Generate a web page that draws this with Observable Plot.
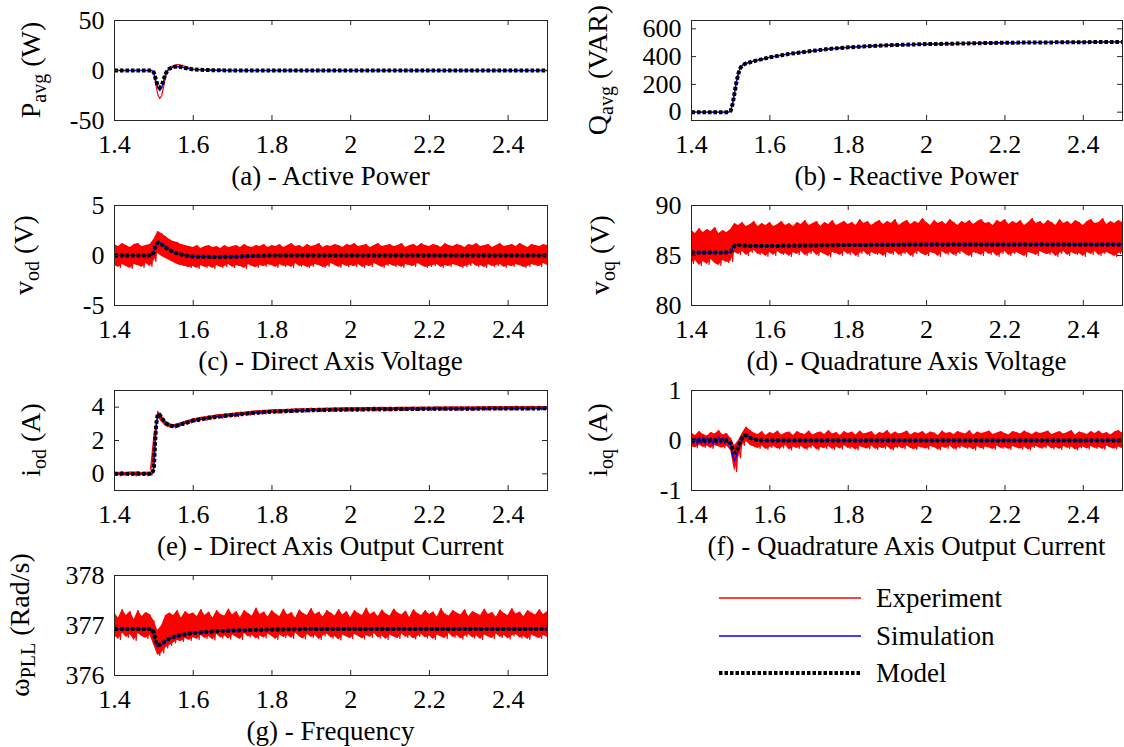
<!DOCTYPE html>
<html><head><meta charset="utf-8">
<script src="https://cdn.jsdelivr.net/npm/d3@7"></script>
<script src="https://cdn.jsdelivr.net/npm/@observablehq/plot@0.6"></script>
<style>
html,body{margin:0;padding:0;background:#fff;overflow:hidden}
#fig{position:relative;width:1124px;height:747px;font-family:"Liberation Serif","Times New Roman",serif;background:#fff}
#fig svg{position:absolute}
</style></head><body><div id="fig"></div><script>
// ---------- data ----------
const seriesNames = ["Experiment", "Simulation", "Model"];
const xTicks = [1.4, 1.6, 1.8, 2.0, 2.2, 2.4];
// sampling grid for the noisy experiment traces (1.40 ... 2.50, step 0.01)
const tGrid = d3.range(111).map(i => (140 + i) / 100);

// (a) active power
const aT = [1.4,1.495,1.5,1.505,1.51,1.515,1.52,1.525,1.53,1.535,1.54,1.55,1.56,1.57,1.58,1.6,1.65,1.7,2.5];
const aExp = [0,0,-3,-14,-24,-28,-25,-16,-6,0,3,5,6,5.5,4,1.5,0.5,0,0];
const aSim = [0,0,-2,-10,-17,-20,-17,-10,-3,0,2,3.5,4,3.5,2.5,1,0.3,0,0];
const aModel = [0,0,-2,-9,-15,-17,-15,-9,-3,0,2,3.5,4,3.5,2.5,1,0.3,0,0];

// (b) reactive power
const bT = [1.4,1.495,1.5,1.505,1.51,1.515,1.52,1.525,1.53,1.54,1.56,1.6,1.65,1.7,1.75,1.8,1.9,2.0,2.2,2.5];
const bExp = [0,0,12,65,145,225,285,322,340,353,369,396,421,438,455,467,482,490,500,506];
const bSim = [0,0,10,62,142,222,282,321,339,352,368,395,420,438,455,467,482,490,500,506];
const bModel = [0,0,10,60,140,220,280,320,338,352,368,395,420,438,455,467,482,490,500,506];

// (c) direct axis voltage
const cT = [1.4,1.495,1.5,1.505,1.51,1.515,1.52,1.53,1.54,1.55,1.56,1.58,1.6,1.65,1.7,1.75,1.8,2.5];
const cSim = [0,0,0.45,1.05,1.35,1.3,1.12,0.82,0.56,0.36,0.2,0.0,-0.1,-0.15,-0.12,-0.05,0,0];
const cModel = [0,0,0.4,1.0,1.3,1.25,1.1,0.8,0.55,0.35,0.2,0.0,-0.1,-0.15,-0.12,-0.05,0,0];
const cExpHi = [
1.1,0.9,1.2,1.0,0.8,1.1,1.2,0.9,1.0,1.1,
1.6,2.4,2.2,1.9,1.6,1.4,1.3,1.1,1.0,0.9,
0.8,1.0,0.7,0.9,1.0,0.8,0.9,0.7,1.0,0.8,
0.9,1.0,0.8,1.1,0.9,0.8,1.0,0.9,1.1,0.8,
1.0,0.9,1.1,0.8,1.0,1.2,0.9,1.0,0.8,1.1,
0.9,1.0,1.2,0.8,1.0,0.9,1.1,1.0,0.8,1.1,
1.0,1.2,0.9,1.0,1.1,0.8,1.0,1.2,0.9,1.0,
1.1,0.9,1.0,1.2,0.8,1.0,1.1,0.9,1.2,1.0,
0.9,1.1,1.0,0.8,1.2,1.0,0.9,1.1,1.0,0.8,
1.1,1.0,1.2,0.9,1.0,1.1,0.8,1.0,1.2,0.9,
1.0,1.1,0.9,1.2,1.0,0.8,1.1,1.0,0.9,1.1,
1.0];
const cExpLo = [
-1.0,-1.2,-0.9,-1.1,-1.3,-0.9,-1.0,-1.2,-0.8,-1.1,
-0.6,0.2,-0.1,-0.3,-0.5,-0.7,-0.9,-1.0,-1.1,-1.2,
-1.1,-1.3,-1.0,-1.2,-1.1,-1.3,-1.0,-1.2,-1.1,-0.9,
-1.2,-1.0,-1.1,-1.3,-0.9,-1.1,-1.2,-1.0,-1.1,-0.9,
-1.0,-1.2,-0.9,-1.1,-1.0,-1.2,-0.8,-1.1,-1.0,-1.2,
-1.1,-0.9,-1.0,-1.2,-1.1,-0.8,-1.0,-1.2,-0.9,-1.1,
-1.0,-1.1,-0.9,-1.2,-1.0,-1.1,-0.8,-1.0,-1.2,-1.0,
-0.9,-1.1,-1.0,-1.2,-0.9,-1.0,-1.1,-0.8,-1.0,-1.2,
-1.1,-1.0,-0.9,-1.2,-1.0,-1.1,-0.9,-1.0,-1.2,-1.1,
-1.0,-0.8,-1.1,-1.0,-1.2,-0.9,-1.1,-1.0,-0.9,-1.2,
-1.0,-1.1,-0.9,-1.0,-1.2,-1.1,-0.9,-1.0,-1.1,-0.8,
-1.0];

// (d) quadrature axis voltage
const dT = [1.4,1.495,1.5,1.505,1.51,1.52,1.53,1.55,1.6,1.7,1.8,2.0,2.5];
const dSim = [85.3,85.3,85.42,85.78,86.0,86.05,86.0,85.95,85.95,86.0,86.05,86.1,86.1];
const dModel = [85.3,85.3,85.4,85.75,86.0,86.05,86.0,85.95,85.95,86.0,86.05,86.1,86.1];
const dExpHi = [
87.5,87.2,87.7,87.3,87.6,87.4,87.8,87.2,87.5,87.3,
87.6,88.2,88.0,88.3,87.9,88.1,88.4,87.9,88.2,88.0,
88.3,87.9,88.1,88.4,88.0,88.2,87.9,88.3,88.1,88.5,
88.0,88.2,88.4,87.9,88.3,88.1,88.5,88.0,88.2,88.4,
88.1,88.3,88.0,88.6,88.2,88.4,88.0,88.3,88.5,88.1,
88.4,88.2,88.6,88.0,88.3,88.5,88.1,88.4,88.2,88.7,
88.3,88.0,88.5,88.2,88.4,88.1,88.6,88.3,88.0,88.4,
88.2,88.5,88.1,88.4,88.6,88.2,88.3,88.0,88.5,88.3,
88.6,88.1,88.4,88.2,88.5,88.0,88.3,88.7,88.2,88.4,
88.1,88.5,88.3,88.0,88.6,88.2,88.4,88.1,88.5,88.3,
88.0,88.4,88.6,88.2,88.3,88.7,88.1,88.4,88.2,88.5,
88.3];
const dExpLo = [
84.2,84.5,84.0,84.4,84.1,84.6,84.2,84.0,84.5,84.3,
84.4,85.3,85.1,85.4,85.0,85.3,85.5,85.1,85.2,84.9,
85.3,85.0,85.4,85.1,85.2,84.9,85.3,85.1,85.4,85.0,
85.2,85.4,85.0,85.3,85.1,84.9,85.3,85.2,85.0,85.4,
85.1,85.3,84.9,85.2,85.4,85.0,85.3,85.1,85.2,84.9,
85.3,85.1,85.4,85.0,85.2,85.3,84.9,85.2,85.4,85.1,
85.0,85.3,85.2,84.9,85.4,85.1,85.3,85.0,85.2,85.4,
85.1,84.9,85.3,85.2,85.0,85.4,85.1,85.3,84.9,85.2,
85.4,85.0,85.2,85.3,85.1,84.9,85.3,85.2,85.0,85.4,
85.2,85.1,85.3,84.9,85.2,85.4,85.0,85.3,85.1,85.2,
84.9,85.3,85.1,85.4,85.0,85.2,85.3,85.1,84.9,85.2,
85.3];

// (e) direct axis output current
const eT = [1.4,1.495,1.5,1.503,1.506,1.51,1.515,1.52,1.53,1.54,1.55,1.56,1.58,1.6,1.65,1.7,1.75,1.8,1.9,2.0,2.2,2.5];
const eSim = [0,0,0.3,1.8,3.0,3.62,3.56,3.35,3.05,2.9,2.85,2.9,3.05,3.2,3.4,3.53,3.65,3.73,3.82,3.86,3.9,3.93];
const eModel = [0,0,0.3,1.8,3.0,3.6,3.55,3.35,3.05,2.9,2.85,2.9,3.05,3.2,3.4,3.53,3.65,3.73,3.82,3.86,3.9,3.93];
const eExpHi = [
0.10,0.08,0.12,0.07,0.11,0.09,0.13,0.08,0.10,0.09,
0.45,3.75,3.45,3.15,3.00,2.95,3.00,3.08,3.15,3.22,
3.30,3.33,3.39,3.41,3.47,3.49,3.54,3.55,3.59,3.60,
3.64,3.65,3.69,3.70,3.73,3.75,3.78,3.78,3.81,3.82,
3.84,3.84,3.86,3.86,3.88,3.88,3.90,3.90,3.91,3.91,
3.93,3.92,3.94,3.93,3.95,3.94,3.96,3.95,3.96,3.96,
3.97,3.96,3.98,3.97,3.98,3.97,3.99,3.98,3.99,3.98,
4.00,3.98,4.00,3.99,4.00,3.99,4.01,3.99,4.01,4.00,
4.01,4.00,4.02,4.00,4.02,4.01,4.02,4.01,4.03,4.01,
4.03,4.01,4.03,4.02,4.03,4.02,4.04,4.02,4.04,4.02,
4.04,4.02,4.05,4.03,4.04,4.03,4.05,4.03,4.05,4.03,
4.04];
const eExpLo = [
-0.09,-0.12,-0.07,-0.11,-0.08,-0.13,-0.09,-0.10,-0.12,-0.08,
2.30,3.40,3.10,2.85,2.77,2.75,2.83,2.90,2.97,3.05,
3.12,3.13,3.19,3.21,3.26,3.29,3.33,3.34,3.38,3.40,
3.43,3.45,3.48,3.50,3.52,3.55,3.57,3.58,3.60,3.62,
3.63,3.64,3.65,3.66,3.67,3.68,3.69,3.70,3.70,3.71,
3.72,3.72,3.73,3.73,3.74,3.74,3.75,3.75,3.75,3.76,
3.76,3.76,3.77,3.77,3.77,3.77,3.78,3.78,3.78,3.78,
3.79,3.79,3.79,3.79,3.79,3.80,3.80,3.80,3.80,3.80,
3.80,3.80,3.81,3.81,3.81,3.81,3.81,3.81,3.82,3.82,
3.82,3.82,3.82,3.82,3.82,3.83,3.83,3.83,3.83,3.83,
3.83,3.83,3.83,3.84,3.84,3.84,3.84,3.84,3.84,3.84,
3.84];

// (f) quadrature axis output current
const fT = [1.4,1.495,1.5,1.505,1.51,1.515,1.52,1.525,1.53,1.535,1.54,1.55,1.56,1.58,2.5];
const fModel = [0,0,-0.05,-0.18,-0.25,-0.22,-0.12,-0.02,0.06,0.1,0.1,0.05,0.02,0,0];
const fSimT = [1.400,1.405,1.410,1.415,1.420,1.425,1.430,1.435,1.440,1.445,1.450,1.455,1.460,1.465,1.470,1.475,1.480,1.485,1.490,1.495,1.500,1.505,1.510,1.515,1.520,1.525,1.530,1.535,1.540,1.550,1.560,1.580,2.500];
const fSim = [0.06,-0.06,0.05,-0.07,0.06,-0.05,0.07,-0.06,0.05,-0.06,0.06,-0.07,0.05,-0.06,0.07,-0.05,0.06,-0.06,0.05,-0.07,-0.08,-0.30,-0.40,-0.30,-0.15,-0.03,0.06,0.10,0.11,0.05,0.02,0,0];
const fExpHi = [
0.15,0.10,0.18,0.12,0.09,0.16,0.13,0.20,0.11,0.14,
0.05,-0.10,0.00,0.15,0.27,0.20,0.15,0.12,0.18,0.10,
0.16,0.13,0.19,0.11,0.15,0.17,0.10,0.18,0.14,0.12,
0.19,0.11,0.15,0.17,0.12,0.20,0.13,0.16,0.10,0.18,
0.14,0.17,0.11,0.19,0.13,0.15,0.18,0.10,0.16,0.14,
0.20,0.12,0.17,0.13,0.15,0.19,0.11,0.16,0.14,0.18,
0.12,0.17,0.15,0.10,0.19,0.14,0.16,0.12,0.18,0.15,
0.13,0.20,0.11,0.17,0.14,0.16,0.19,0.12,0.15,0.18,
0.14,0.11,0.18,0.16,0.13,0.19,0.15,0.12,0.17,0.14,
0.16,0.19,0.12,0.15,0.18,0.13,0.16,0.20,0.11,0.17,
0.15,0.12,0.18,0.14,0.19,0.13,0.16,0.11,0.17,0.20,
0.15];
const fExpLo = [
-0.12,-0.15,-0.09,-0.14,-0.11,-0.16,-0.10,-0.13,-0.15,-0.11,
-0.20,-0.62,-0.35,-0.10,-0.02,-0.10,-0.13,-0.16,-0.11,-0.18,
-0.14,-0.12,-0.17,-0.15,-0.10,-0.19,-0.13,-0.16,-0.12,-0.18,
-0.15,-0.11,-0.19,-0.14,-0.16,-0.12,-0.18,-0.13,-0.17,-0.10,
-0.16,-0.14,-0.19,-0.12,-0.15,-0.17,-0.11,-0.18,-0.14,-0.16,
-0.12,-0.19,-0.15,-0.13,-0.17,-0.11,-0.16,-0.18,-0.13,-0.15,
-0.17,-0.12,-0.14,-0.19,-0.13,-0.16,-0.11,-0.18,-0.15,-0.12,
-0.16,-0.14,-0.19,-0.12,-0.17,-0.13,-0.15,-0.18,-0.11,-0.16,
-0.14,-0.18,-0.12,-0.15,-0.17,-0.13,-0.19,-0.14,-0.12,-0.16,
-0.15,-0.11,-0.17,-0.14,-0.18,-0.12,-0.16,-0.13,-0.19,-0.15,
-0.13,-0.17,-0.12,-0.16,-0.14,-0.18,-0.11,-0.15,-0.17,-0.13,
-0.16];

// (g) PLL frequency
const gT = [1.4,1.495,1.5,1.505,1.51,1.52,1.53,1.54,1.55,1.57,1.6,1.65,1.7,1.8,1.9,2.5];
const gSim = [376.93,376.93,376.84,376.66,376.58,376.62,376.69,376.74,376.77,376.81,376.85,376.88,376.9,376.92,376.93,376.93];
const gModel = [376.93,376.93,376.85,376.68,376.6,376.63,376.7,376.74,376.77,376.81,376.85,376.88,376.9,376.92,376.93,376.93];
const gExpHi = [
377.25,377.15,377.32,377.20,377.28,377.12,377.30,377.18,377.26,377.22,
377.10,376.90,377.00,377.20,377.25,377.20,377.30,377.15,377.28,377.22,
377.25,377.18,377.32,377.20,377.27,377.15,377.30,377.22,377.19,377.33,
377.21,377.28,377.16,377.30,377.24,377.19,377.35,377.22,377.27,377.17,
377.30,377.23,377.18,377.33,377.21,377.26,377.15,377.31,377.24,377.20,
377.34,377.22,377.27,377.17,377.30,377.25,377.19,377.32,377.21,377.28,
377.16,377.30,377.24,377.20,377.35,377.22,377.27,377.18,377.31,377.23,
377.19,377.33,377.25,377.21,377.29,377.16,377.32,377.24,377.20,377.30,
377.22,377.27,377.17,377.34,377.23,377.19,377.30,377.25,377.21,377.32,
377.18,377.28,377.24,377.20,377.33,377.22,377.26,377.17,377.31,377.24,
377.20,377.34,377.23,377.27,377.18,377.30,377.25,377.21,377.32,377.22,
377.28];
const gExpLo = [
376.80,376.72,376.85,376.76,376.82,376.70,376.84,376.78,376.74,376.81,
376.60,376.40,376.45,376.55,376.60,376.65,376.70,376.68,376.74,376.70,
376.76,376.72,376.80,376.74,376.78,376.71,376.82,376.75,376.79,376.73,
376.81,376.76,376.72,376.84,376.77,376.80,376.73,376.79,376.75,376.83,
376.78,376.72,376.81,376.76,376.80,376.74,376.85,376.77,376.73,376.82,
376.76,376.80,376.72,376.79,376.83,376.75,376.78,376.71,376.81,376.77,
376.74,376.82,376.78,376.73,376.80,376.76,376.84,376.75,376.79,376.72,
376.81,376.77,376.74,376.83,376.76,376.80,376.73,376.78,376.82,376.75,
376.79,376.72,376.81,376.77,376.74,376.84,376.76,376.80,376.73,376.78,
376.82,376.75,376.79,376.72,376.81,376.77,376.74,376.83,376.76,376.80,
376.73,376.79,376.82,376.75,376.78,376.72,376.81,376.77,376.74,376.80,
376.76];

// ---------- helpers ----------
const zip = (t, v) => t.map((ti, i) => ({t: ti, v: v[i]}));
// experiment trace: upper reading at t, lower reading half a step later
const zigzag = (hi, lo) => tGrid.flatMap((t, i) => [{t, v: hi[i]}, {t: t + 0.005, v: lo[i]}]);
const band = (hi, lo) => tGrid.map((t, i) => ({t, hi: hi[i], lo: lo[i]}));

const COLORS = {Experiment: "#ff0000", Simulation: "#0000ff", Model: "#000000"};
const FONT = '"Liberation Serif","Times New Roman",serif';
const LEFT = {x0: 114, w: 433}, RIGHT = {x0: 691, w: 431};
const ROWS = [20, 205, 390, 575];
const H = 100;

const panels = [
  {col: LEFT, row: 0, y: [-50, 50], yTicks: [-50, 0, 50], exp: zip(aT, aExp), sim: zip(aT, aSim), model: zip(aT, aModel),
   lab: ["P", "avg", " (W)"], labX: 40, title: "(a) - Active Power"},
  {col: RIGHT, row: 0, y: [-60, 660], yTicks: [0, 200, 400, 600], exp: zip(bT, bExp), sim: zip(bT, bSim), model: zip(bT, bModel),
   lab: ["Q", "avg", " (VAR)"], labX: 607, title: "(b) - Reactive Power"},
  {col: LEFT, row: 1, y: [-5, 5], yTicks: [-5, 0, 5], exp: zigzag(cExpHi, cExpLo), band: band(cExpHi, cExpLo), sim: zip(cT, cSim), model: zip(cT, cModel),
   lab: ["v", "od", " (V)"], labX: 33, title: "(c) - Direct Axis Voltage"},
  {col: RIGHT, row: 1, y: [80, 90], yTicks: [80, 85, 90], exp: zigzag(dExpHi, dExpLo), band: band(dExpHi, dExpLo), sim: zip(dT, dSim), model: zip(dT, dModel),
   lab: ["v", "oq", " (V)"], labX: 609, title: "(d) - Quadrature Axis Voltage"},
  {col: LEFT, row: 2, y: [-1, 5], yTicks: [0, 2, 4], exp: zigzag(eExpHi, eExpLo), band: band(eExpHi, eExpLo), sim: zip(eT, eSim), model: zip(eT, eModel),
   lab: ["i", "od", " (A)"], labX: 40, title: "(e) - Direct Axis Output Current"},
  {col: RIGHT, row: 2, y: [-1, 1], yTicks: [-1, 0, 1], exp: zigzag(fExpHi, fExpLo), band: band(fExpHi, fExpLo), sim: zip(fSimT, fSim), model: zip(fT, fModel),
   lab: ["i", "oq", " (A)"], labX: 607, title: "(f) - Quadrature Axis Output Current"},
  {col: LEFT, row: 3, y: [376, 378], yTicks: [376, 377, 378], exp: zigzag(gExpHi, gExpLo), band: band(gExpHi, gExpLo), sim: zip(gT, gSim), model: zip(gT, gModel),
   lab: ["\u03C9", "PLL", " (Rad/s)"], labX: 29, title: "(g) - Frequency"}
];

const fig = document.getElementById("fig");
const ML = 70, MR = 2, MT = 8, MB = 40, TICK = 5;

for (const p of panels) {
  const W = p.col.w;
  const plot = Plot.plot({
    width: W + ML + MR, height: H + MT + MB,
    marginLeft: ML, marginRight: MR, marginTop: MT, marginBottom: MB,
    x: {domain: [1.4, 2.5]},
    y: {domain: p.y},
    style: {fontFamily: FONT, fontSize: "26px", color: "#000", background: "transparent", overflow: "visible"},
    marks: [
      p.band ? Plot.areaY(p.band, {x: "t", y1: "lo", y2: "hi", fill: COLORS.Experiment, clip: true}) : null,
      Plot.line(p.exp, {x: "t", y: "v", stroke: COLORS.Experiment, strokeWidth: 1.2, clip: true}),
      Plot.line(p.sim, {x: "t", y: "v", stroke: COLORS.Simulation, strokeWidth: 1.4, clip: true}),
      Plot.line(p.model, {x: "t", y: "v", stroke: COLORS.Model, strokeWidth: 4, strokeDasharray: "3.5,2", strokeLinecap: "butt", strokeLinejoin: "miter", clip: true}),
      Plot.frame({stroke: "#262626", strokeWidth: 1}),
      Plot.ruleX(xTicks, {x: d => d, insetTop: H - TICK, stroke: "#262626"}),
      Plot.ruleX(xTicks, {x: d => d, insetBottom: H - TICK, stroke: "#262626"}),
      Plot.ruleY(p.yTicks, {y: d => d, insetRight: W - TICK, stroke: "#262626"}),
      Plot.ruleY(p.yTicks, {y: d => d, insetLeft: W - TICK, stroke: "#262626"}),
      Plot.axisX({ticks: xTicks, tickSize: 0, tickPadding: 14, tickFormat: d => String(d), label: null}),
      Plot.axisY({ticks: p.yTicks, tickSize: 0, tickPadding: 10, tickFormat: d => String(d), label: null})
    ]
  });
  plot.style.left = (p.col.x0 - ML) + "px";
  plot.style.top = (ROWS[p.row] - MT) + "px";
  fig.appendChild(plot);
}

// ---------- labels, titles, legend ----------
const ov = d3.select(fig).append("svg")
  .attr("width", 1124).attr("height", 747)
  .style("left", "0px").style("top", "0px").style("pointer-events", "none")
  .attr("font-family", FONT);

for (const p of panels) {
  const cx = p.col.x0 + p.col.w / 2;
  const top = ROWS[p.row];
  const t = ov.append("text")
    .attr("transform", `translate(${p.labX},${top + H / 2}) rotate(-90)`)
    .attr("text-anchor", "middle").attr("font-size", 28).attr("fill", "#000");
  t.append("tspan").text(p.lab[0]);
  t.append("tspan").attr("font-size", 20).attr("dy", 6).text(p.lab[1]);
  t.append("tspan").attr("font-size", 28).attr("dy", -6).text(p.lab[2]);
  ov.append("text").attr("x", cx).attr("y", top + H + 65)
    .attr("text-anchor", "middle").attr("font-size", 27).attr("fill", "#000").text(p.title);
}

const legY = [598, 636, 673];
seriesNames.forEach((name, i) => {
  const l = ov.append("line").attr("x1", 719).attr("x2", 861).attr("y1", legY[i]).attr("y2", legY[i])
    .attr("stroke", COLORS[name]);
  if (name === "Model") l.attr("stroke-width", 4).attr("stroke-dasharray", "3.5,2");
  else l.attr("stroke-width", 1.3);
  ov.append("text").attr("x", 876).attr("y", legY[i] + 9).attr("font-size", 27).attr("fill", "#000").text(name);
});
</script></body></html>
